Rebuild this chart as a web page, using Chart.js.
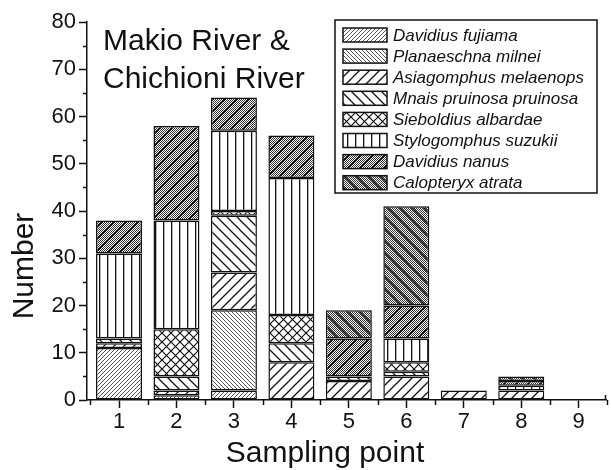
<!DOCTYPE html>
<html>
<head>
<meta charset="utf-8">
<script src="https://cdn.jsdelivr.net/npm/chart.js@4.4.0/dist/chart.umd.min.js"></script>
<style>
  html, body { margin: 0; padding: 0; background: #fff; }
  #wrap { width: 611px; height: 470px; }
</style>
</head>
<body>
<div id="wrap"><canvas id="chart" width="611" height="470"></canvas></div>
<script>
// Sampling points on the x axis
const samplingPoints = [1, 2, 3, 4, 5, 6, 7, 8, 9];

// Species, in stacking order (bottom to top)
const speciesNames = [
  'Davidius fujiama',
  'Planaeschna milnei',
  'Asiagomphus melaenops',
  'Mnais pruinosa pruinosa',
  'Sieboldius albardae',
  'Stylogomphus suzukii',
  'Davidius nanus',
  'Calopteryx atrata'
];

// Individuals counted at each sampling point
const davidiusFujiama      = [11, 1,  2,  0, 0,  0, 0, 0, 0];
const planaeschnaMilnei    = [0,  0, 17,  0, 0,  0, 0, 0, 0];
const asiagomphusMelaenops = [1,  1,  8,  8, 4,  5, 2, 2, 0];
const mnaisPruinosa        = [1,  3, 12,  4, 1,  1, 0, 0, 0];
const sieboldiusAlbardae   = [0, 10,  1,  6, 0,  2, 0, 0, 0];
const stylogomphusSuzukii  = [18, 23, 17, 29, 0, 5, 0, 1, 0];
const davidiusNanus        = [7, 20,  7,  9, 8,  7, 0, 1, 0];
const calopteryxAtrata     = [0,  0,  0,  0, 6, 21, 0, 1, 0];

const yTickValues = [0, 10, 20, 30, 40, 50, 60, 70, 80];

const titleLines = ['Makio River &', 'Chichioni River'];
const xTitle = 'Sampling point';
const yTitle = 'Number';

const INK = '#111';
const FONT = "'Liberation Sans', Arial, Helvetica, sans-serif";

// ---- hatch fills ----
function makeTile(size, draw) {
  const c = document.createElement('canvas');
  c.width = size; c.height = size;
  const g = c.getContext('2d');
  g.fillStyle = '#fff';
  g.fillRect(0, 0, size, size);
  draw(g, size);
  return g.createPattern(c, 'repeat');
}
function diagonal(g, s, dir, w, color) {
  g.strokeStyle = color;
  g.lineWidth = w;
  g.beginPath();
  for (let k = -1; k <= 1; k++) {
    if (dir > 0) { g.moveTo(k * s - 1, s + 1); g.lineTo(k * s + s + 1, -1); }
    else         { g.moveTo(k * s - 1, -1);    g.lineTo(k * s + s + 1, s + 1); }
  }
  g.stroke();
}
function checker(g, s, color) {
  g.fillStyle = color;
  for (let y = 0; y < s; y++)
    for (let x = 0; x < s; x++)
      if ((x + y) % 2 === 0) g.fillRect(x, y, 1, 1);
}
const fills = [
  makeTile(4, (g, s) => diagonal(g, s, 1, 1, '#555')),
  makeTile(4, (g, s) => diagonal(g, s, -1, 1, '#555')),
  makeTile(10, (g, s) => diagonal(g, s, 1, 1.3, INK)),
  makeTile(10, (g, s) => diagonal(g, s, -1, 1.3, INK)),
  makeTile(9, (g, s) => { diagonal(g, s, 1, 1.2, INK); diagonal(g, s, -1, 1.2, INK); }),
  makeTile(8, (g, s) => { g.fillStyle = INK; g.fillRect(3, 0, 1.3, s); }),
  makeTile(12, (g, s) => { checker(g, s, '#333'); diagonal(g, s, 1, 1.6, INK); }),
  makeTile(12, (g, s) => { checker(g, s, '#333'); diagonal(g, s, -1, 1.6, INK); })
];

const seriesValues = [
  davidiusFujiama, planaeschnaMilnei, asiagomphusMelaenops, mnaisPruinosa,
  sieboldiusAlbardae, stylogomphusSuzukii, davidiusNanus, calopteryxAtrata
];

const datasets = seriesValues.map((vals, i) => ({
  label: speciesNames[i],
  data: vals.map((v, j) => ({ x: samplingPoints[j], y: v === 0 ? null : v })),
  backgroundColor: fills[i],
  borderColor: INK,
  borderWidth: 1.5,
  borderSkipped: false,
  barPercentage: 0.8,
  categoryPercentage: 1.0
}));

// ---- annotations: title, axis titles, minor ticks, legend ----
const decorations = {
  id: 'decorations',
  afterDraw(chart) {
    const ctx = chart.ctx;
    const xs = chart.scales.x, ys = chart.scales.y;
    ctx.save();
    ctx.fillStyle = INK;
    ctx.strokeStyle = INK;

    // minor ticks
    ctx.lineWidth = 1.5;
    ctx.beginPath();
    for (let v = 5; v < 80; v += 10) {
      const y = Math.round(ys.getPixelForValue(v)) + 0.5;
      ctx.moveTo(xs.left - 4, y); ctx.lineTo(xs.left, y);
    }
    for (let i = 0; i <= samplingPoints.length; i++) {
      const x = Math.round(xs.getPixelForValue(samplingPoints[0] - 0.5 + i)) + 0.5;
      ctx.moveTo(x, ys.bottom); ctx.lineTo(x, ys.bottom + 5);
    }
    ctx.moveTo(xs.right - 0.5, ys.bottom); ctx.lineTo(xs.right - 0.5, ys.bottom - 5);
    ctx.stroke();

    // title inside the plot
    ctx.font = '30px ' + FONT;
    ctx.textAlign = 'left';
    ctx.textBaseline = 'alphabetic';
    ctx.fillText(titleLines[0], 103, 50);
    ctx.fillText(titleLines[1], 103, 88);

    // axis titles
    ctx.textAlign = 'center';
    ctx.fillText(xTitle, 325, 462);
    ctx.save();
    ctx.translate(33, 266);
    ctx.rotate(-Math.PI / 2);
    ctx.fillText(yTitle, 0, 0);
    ctx.restore();

    // legend box
    const bx = 335, by = 20, bw = 262, bh = 173;
    ctx.fillStyle = '#fff';
    ctx.fillRect(bx, by, bw, bh);
    ctx.lineWidth = 1.5;
    ctx.strokeRect(bx, by, bw, bh);
    ctx.font = 'italic 17px ' + FONT;
    ctx.textAlign = 'left';
    ctx.textBaseline = 'middle';
    chart.data.datasets.forEach((ds, i) => {
      const cy = 35 + i * 21.1;
      ctx.fillStyle = ds.backgroundColor;
      ctx.fillRect(343, cy - 7, 44, 14);
      ctx.lineWidth = 1.5;
      ctx.strokeRect(343, cy - 7, 44, 14);
      ctx.fillStyle = INK;
      ctx.fillText(ds.label, 393, cy + 1);
    });
    ctx.restore();
  }
};

Chart.defaults.font.family = FONT;
Chart.defaults.color = INK;

new Chart(document.getElementById('chart'), {
  type: 'bar',
  data: { datasets },
  options: {
    responsive: false,
    animation: false,
    devicePixelRatio: 1,
    layout: { padding: { top: 22, right: 5, left: 0, bottom: 0 } },
    plugins: { legend: { display: false }, tooltip: { enabled: false } },
    scales: {
      x: {
        type: 'linear',
        stacked: true,
        offset: false,
        min: 0.443,
        max: 9.475,
        afterBuildTicks: (s) => { s.ticks = samplingPoints.map(v => ({ value: v })); },
        afterFit: (s) => { s.height = 70; },
        ticks: { font: { size: 22 }, color: INK, padding: 1, autoSkip: false, maxRotation: 0 },
        grid: { drawOnChartArea: false, offset: false, tickLength: 8, tickColor: INK, tickWidth: 1.5 },
        border: { color: INK, width: 1.5 }
      },
      y: {
        stacked: true,
        min: 0,
        max: 80,
        afterBuildTicks: (s) => { s.ticks = yTickValues.map(v => ({ value: v })); },
        afterFit: (s) => { s.width = 87; },
        ticks: { font: { size: 22 }, color: INK, padding: 3 },
        grid: { drawOnChartArea: false, tickLength: 8, tickColor: INK, tickWidth: 1.5 },
        border: { color: INK, width: 1.5 }
      }
    }
  },
  plugins: [decorations]
});
</script>
</body>
</html>
